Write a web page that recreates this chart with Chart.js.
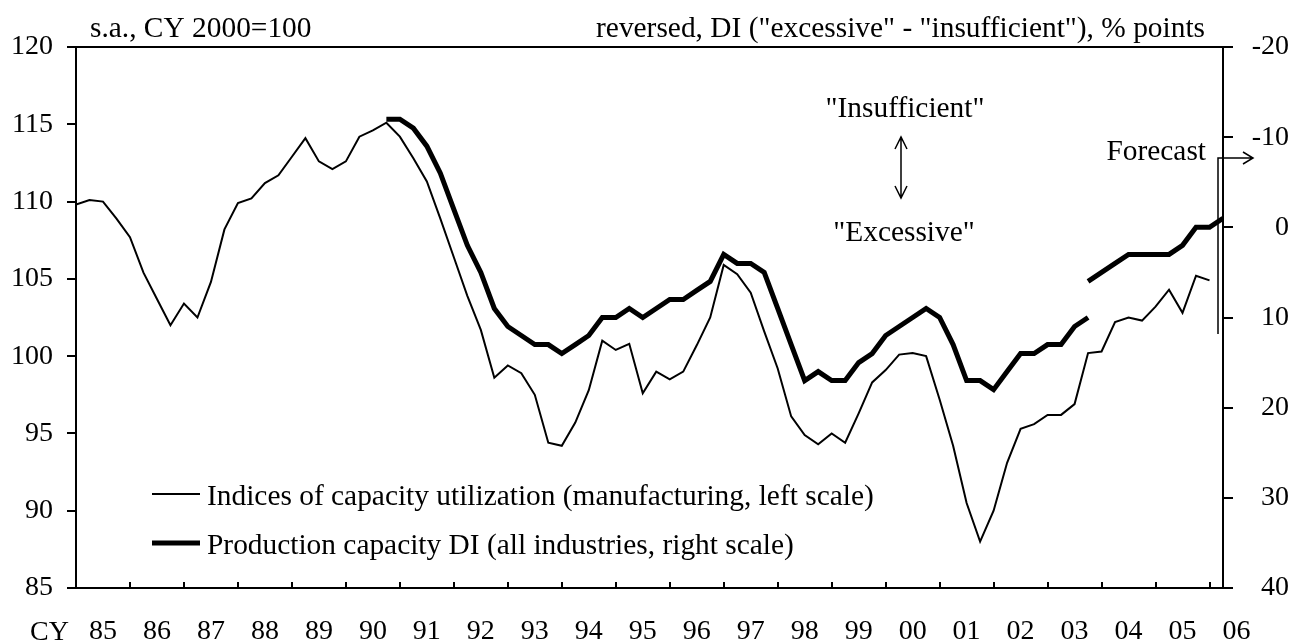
<!DOCTYPE html>
<html>
<head>
<meta charset="utf-8">
<script src="https://cdn.jsdelivr.net/npm/chart.js@4"></script>
<style>
  html, body { margin: 0; padding: 0; background: #fff; }
</style>
</head>
<body>
<canvas id="capacityChart" width="1295" height="644"></canvas>
<script>
// calendar years shown on the x axis, one tick per year
const years = ['85', '86', '87', '88', '89', '90', '91', '92', '93', '94', '95',
               '96', '97', '98', '99', '00', '01', '02', '03', '04', '05', '06'];
const quarterNames = ['Q1', 'Q2', 'Q3', 'Q4'];
const quarters = [];
years.forEach(y => quarterNames.forEach(q => quarters.push(y + q)));

// Indices of capacity utilization (manufacturing), CY2000=100, from 85Q1
const capUtilStart = '85Q1';
const capUtil = [
  109.8, 110.1, 110.0, 108.9, 107.7, 105.4, 103.7, 102.0, 103.4, 102.5,
  104.8, 108.2, 109.9, 110.2, 111.2, 111.7, 112.9, 114.1, 112.6, 112.1,
  112.6, 114.2, 114.6, 115.1, 114.2, 112.8, 111.3, 108.9, 106.4, 103.9,
  101.7, 98.6, 99.4, 98.9, 97.5, 94.4, 94.2, 95.7, 97.8, 101.0,
  100.4, 100.8, 97.6, 99.0, 98.5, 99.0, 100.7, 102.5, 105.9, 105.3,
  104.1, 101.6, 99.2, 96.1, 94.9, 94.3, 95.0, 94.4, 96.3, 98.3,
  99.1, 100.1, 100.2, 100.0, 97.2, 94.2, 90.5, 88.0, 90.0, 93.1,
  95.3, 95.6, 96.2, 96.2, 96.9, 100.2, 100.3, 102.2, 102.5, 102.3,
  103.2, 104.3, 102.8, 105.2, 104.9
];

// Production capacity DI (all industries), old sample basis, from 90Q4
const diOldStart = '90Q4';
const diOld = [
  -12, -12, -11, -9, -6, -2, 2, 5, 9, 11,
  12, 13, 13, 14, 13, 12, 10, 10, 9, 10,
  9, 8, 8, 7, 6, 3, 4, 4, 5, 9,
  13, 17, 16, 17, 17, 15, 14, 12, 11, 10,
  9, 10, 13, 17, 17, 18, 16, 14, 14, 13,
  13, 11, 10
];

// new sample basis, from 03Q4 (last point is the forecast)
const diNewStart = '03Q4';
const diNew = [6, 5, 4, 3, 3, 3, 3, 2, 0, 0, -1];

const lastQuarter = '06Q2';

const leftTicks = [85, 90, 95, 100, 105, 110, 115, 120];
const rightTicks = [-20, -10, 0, 10, 20, 30, 40];

function toPoints(start, values) {
  const s = quarters.indexOf(start);
  return values.map((v, i) => ({ x: s + i, y: v }));
}

const serif = '"Liberation Serif", "Times New Roman", serif';
const textFont = '29.4px ' + serif;

const decorations = {
  id: 'decorations',
  afterDraw(chart) {
    const { ctx, chartArea: a } = chart;
    ctx.save();
    ctx.strokeStyle = '#000';
    ctx.fillStyle = '#000';

    // top frame
    ctx.lineWidth = 2;
    ctx.beginPath();
    ctx.moveTo(a.left, a.top);
    ctx.lineTo(a.right, a.top);
    ctx.stroke();

    ctx.font = textFont;
    ctx.textBaseline = 'alphabetic';
    ctx.textAlign = 'left';
    ctx.fillText('s.a., CY 2000=100', 90, 37);
    ctx.textAlign = 'right';
    ctx.fillText('reversed, DI ("excessive" - "insufficient"), % points', 1205, 37);

    ctx.font = '28px ' + serif;
    ctx.textAlign = 'left';
    ctx.fillText('CY', 30, 640);

    // legend
    ctx.font = textFont;
    ctx.lineWidth = 2;
    ctx.beginPath(); ctx.moveTo(152, 494); ctx.lineTo(200, 494); ctx.stroke();
    ctx.lineWidth = 5;
    ctx.beginPath(); ctx.moveTo(152, 543); ctx.lineTo(200, 543); ctx.stroke();
    ctx.fillText('Indices of capacity utilization (manufacturing, left scale)', 207, 505);
    ctx.fillText('Production capacity DI (all industries, right scale)', 207, 554);

    // "Insufficient" <-> "Excessive"
    ctx.textAlign = 'center';
    ctx.fillText('"Insufficient"', 905, 117);
    ctx.fillText('"Excessive"', 904, 241);
    ctx.lineWidth = 1.5;
    ctx.beginPath();
    ctx.moveTo(901, 137); ctx.lineTo(901, 198);
    ctx.moveTo(895, 149); ctx.lineTo(901, 137); ctx.lineTo(907, 149);
    ctx.moveTo(895, 186); ctx.lineTo(901, 198); ctx.lineTo(907, 186);
    ctx.stroke();

    // Forecast bracket
    ctx.textAlign = 'right';
    ctx.fillText('Forecast', 1206, 160);
    ctx.lineWidth = 1.5;
    ctx.beginPath();
    ctx.moveTo(1218, 334); ctx.lineTo(1218, 158); ctx.lineTo(1253, 158);
    ctx.moveTo(1243, 152); ctx.lineTo(1253, 158); ctx.lineTo(1243, 164);
    ctx.stroke();
    ctx.restore();
  }
};

const thickStyle = {
  borderColor: '#000',
  borderWidth: 5,
  pointRadius: 0,
  tension: 0,
  fill: false,
  yAxisID: 'y1',
  borderCapStyle: 'butt',
  borderJoinStyle: 'miter'
};

new Chart(document.getElementById('capacityChart'), {
  type: 'line',
  data: {
    datasets: [
      {
        label: 'Indices of capacity utilization (manufacturing, left scale)',
        data: toPoints(capUtilStart, capUtil),
        borderColor: '#000',
        borderWidth: 2,
        pointRadius: 0,
        tension: 0,
        fill: false,
        yAxisID: 'y'
      },
      Object.assign({ label: 'Production capacity DI (all industries, right scale)', data: toPoints(diOldStart, diOld) }, thickStyle),
      Object.assign({ label: 'Production capacity DI (new basis)', data: toPoints(diNewStart, diNew) }, thickStyle)
    ]
  },
  options: {
    responsive: false,
    animation: false,
    layout: { padding: { top: 47, right: 6, left: 0, bottom: 0 } },
    plugins: { legend: { display: false }, tooltip: { enabled: false } },
    scales: {
      x: {
        type: 'linear',
        position: 'bottom',
        min: 0,
        max: quarters.indexOf(lastQuarter),
        afterBuildTicks: axis => {
          axis.ticks = years.map((y, i) => ({ value: i * 4 }));
        },
        afterFit: axis => { axis.height = 56; },
        ticks: {
          autoSkip: false,
          maxRotation: 0,
          padding: 33,
          labelOffset: 27,
          color: '#000',
          font: { family: serif, size: 28 },
          callback: (v, i) => years[i]
        },
        grid: { drawOnChartArea: false, color: '#000', lineWidth: 2, tickLength: -6 },
        border: { color: '#000', width: 2 }
      },
      y: {
        position: 'left',
        min: 85,
        max: 120,
        afterBuildTicks: axis => { axis.ticks = leftTicks.map(v => ({ value: v })); },
        afterFit: axis => { axis.width = 76; },
        ticks: { color: '#000', padding: 14, font: { family: serif, size: 28 } },
        grid: { drawOnChartArea: false, color: '#000', lineWidth: 2, tickLength: 9 },
        border: { color: '#000', width: 2 }
      },
      y1: {
        position: 'right',
        reverse: true,
        min: -20,
        max: 40,
        afterBuildTicks: axis => { axis.ticks = rightTicks.map(v => ({ value: v })); },
        afterFit: axis => { axis.width = 66; },
        ticks: { color: '#000', padding: 10, crossAlign: 'far', font: { family: serif, size: 28 } },
        grid: { drawOnChartArea: false, color: '#000', lineWidth: 2, tickLength: 10 },
        border: { color: '#000', width: 2 }
      }
    }
  },
  plugins: [decorations]
});
</script>
</body>
</html>
